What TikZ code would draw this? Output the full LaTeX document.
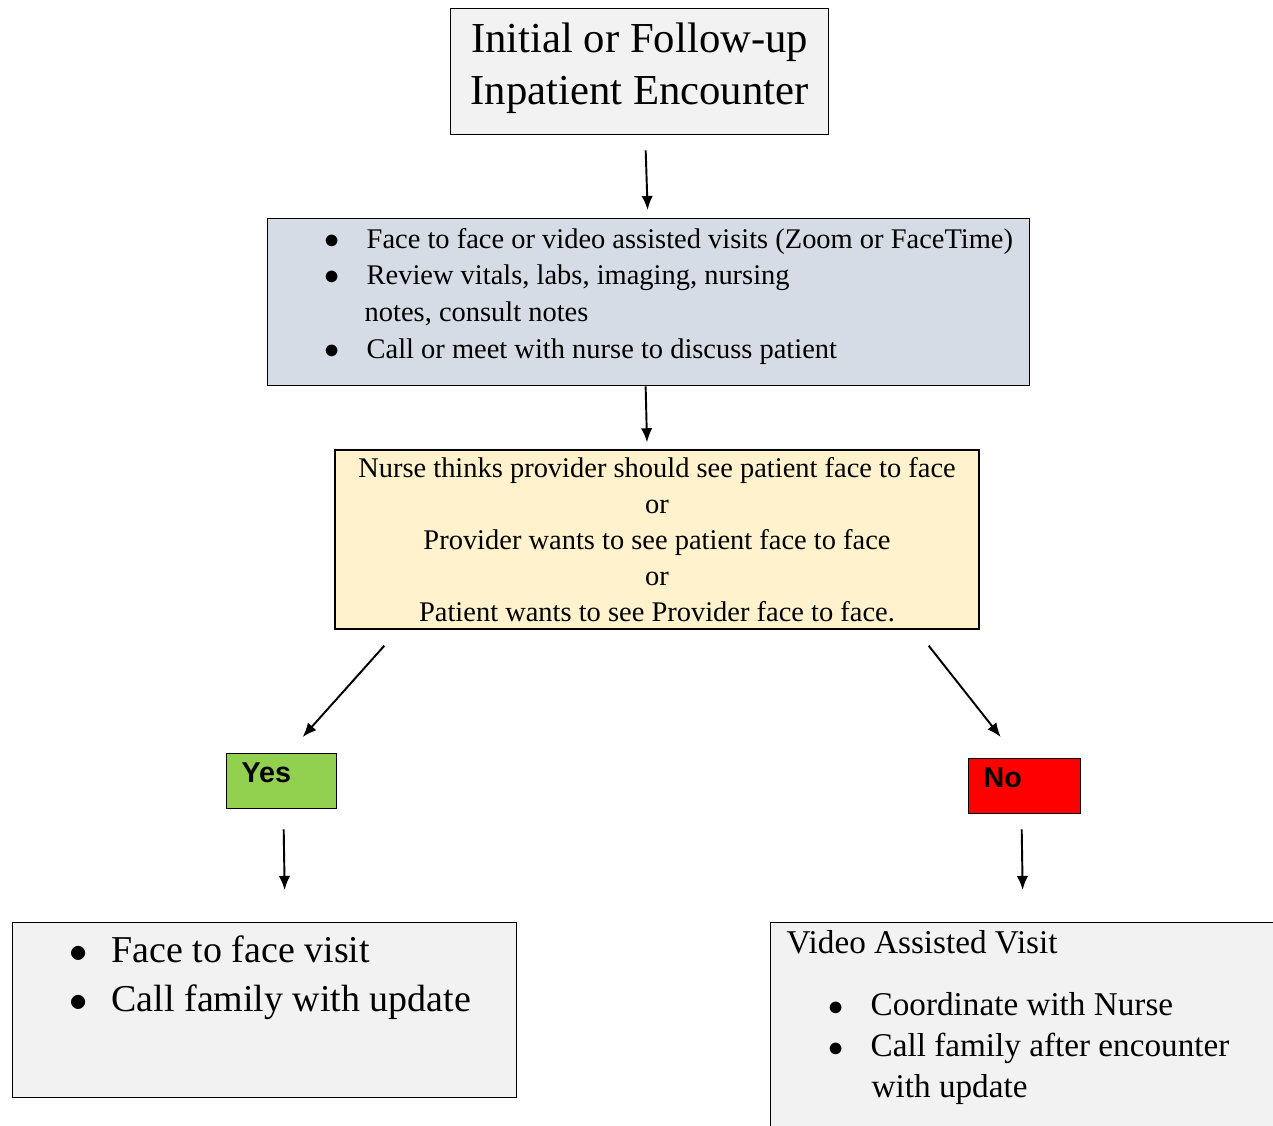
\documentclass[tikz,border=0pt]{standalone}
\usepackage{fontspec}
\setmainfont{Liberation Serif}
\setsansfont{Liberation Sans}
\usetikzlibrary{arrows.meta,calc}

\definecolor{boxgray}{HTML}{F2F2F2}
\definecolor{boxblue}{HTML}{D6DCE5}
\definecolor{boxyellow}{HTML}{FFF2CC}
\definecolor{yesgreen}{HTML}{92D050}
\definecolor{nored}{HTML}{FF0000}

% bullet item and top-aligned box content
\newcommand{\itm}[1]{\makebox[0.84cm][l]{$\bullet$}#1}
\newcommand{\panel}[4]{\parbox[t][#2][t]{#1}{\vspace*{#3}\strut#4}}

\tikzset{
  box/.style={draw, line width=0.8pt, inner sep=0pt},
  flow/.style={line width=1.1pt, -{Latex[length=8pt,width=6.5pt]}},
  tag/.style={box, font=\sffamily\bfseries\fontsize{16.3}{19}\selectfont}
}

\begin{document}
\begin{tikzpicture}[x=0.02cm, y=-0.02cm]
    \useasboundingbox (0,0) rectangle (1273,1125);
    \clip (0,0) rectangle (1273,1125);

    % Boxes
    \node[box, fill=boxgray, anchor=north west, font=\fontsize{24.3}{29.5}\selectfont] (start) at (450,8)
          {\panel{7.56cm}{2.52cm}{4.2pt}{\centering Initial or Follow-up\\Inpatient Encounter}};
    \node[box, fill=boxblue, anchor=north west, font=\fontsize{16.2}{21}\selectfont] (review) at (267,218)
          {\panel{15.24cm}{3.34cm}{2pt}{\hspace*{1.14cm}\itm{Face to face or video assisted visits (Zoom or FaceTime)}\\
           \hspace*{1.14cm}\itm{Review vitals, labs, imaging, nursing}\\
           \hspace*{1.94cm}notes, consult notes\\
           \hspace*{1.14cm}\itm{Call or meet with nurse to discuss patient}}};
    \node[box, fill=boxyellow, minimum width=12.88cm, minimum height=3.58cm, align=center,
          font=\fontsize{16.2}{20.4}\selectfont] (cond) at (657,539.5)
          {Nurse thinks provider should see patient face to face\\or\\
           Provider wants to see patient face to face\\or\\
           Patient wants to see Provider face to face.};
    \node[tag, fill=yesgreen, anchor=north west] (yes) at (226,753)
          {\panel{2.2cm}{1.1cm}{3.1pt}{\hspace*{0.3cm}Yes}};
    \node[tag, fill=nored, anchor=north west] (no) at (968,758)
          {\panel{2.24cm}{1.1cm}{3.1pt}{\hspace*{0.3cm}No}};
    \node[box, fill=boxgray, anchor=north west, font=\fontsize{21.6}{28.3}\selectfont] (visit) at (12,922)
          {\panel{10.08cm}{3.5cm}{2.6pt}{\hspace*{1.14cm}\itm{Face to face visit}\\
           \hspace*{1.14cm}\itm{Call family with update}}};
    \node[box, fill=boxgray, anchor=north west, font=\fontsize{18.9}{23.5}\selectfont] (video) at (770,922)
          {\panel{10.4cm}{4.4cm}{1.1pt}{\hspace*{0.32cm}Video Assisted Visit\\[11.7pt]
           \hspace*{1.16cm}\itm{Coordinate with Nurse}\\
           \hspace*{1.16cm}\itm{Call family after encounter}\\
           \hspace*{2.02cm}with update}};

    % Arrows
    \draw[flow] ($(start.south)+(6,15)$) -- ($(review.north)+(-1,-8)$);
    \draw[flow] ($(review.south)+(-3,0)$) -- ($(cond.north)+(-10,-7)$);
    \draw[flow] ($(cond.south west)+(50,16)$) -- ($(yes.north)+(21,-16)$);
    \draw[flow] ($(cond.south east)+(-51,16)$) -- ($(no.north)+(-24,-21)$);
    \draw[flow] ($(yes.south)+(2,20)$) -- ($(visit.north)+(20,-32)$);
    \draw[flow] ($(no.south)+(-3,15)$) -- ($(video.north)+(-8,-32)$);
\end{tikzpicture}
\end{document}
